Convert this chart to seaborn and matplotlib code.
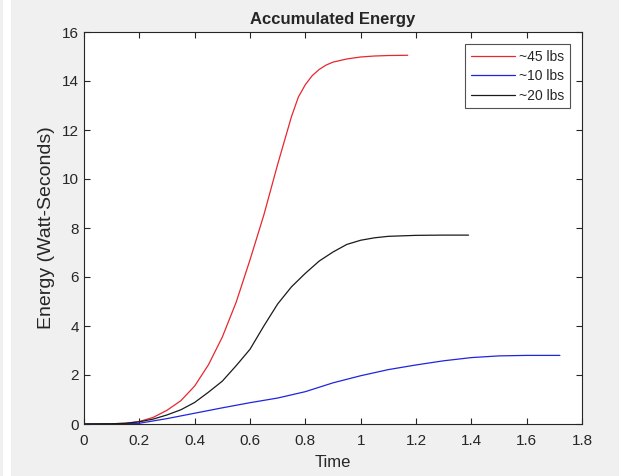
import numpy as np
import pandas as pd
import seaborn as sns
from matplotlib import pyplot as plt
from matplotlib.patches import Rectangle

# values
t_45 = [0.0, 0.1, 0.15, 0.2, 0.25, 0.3, 0.35, 0.4, 0.45, 0.5, 0.55, 0.6, 0.65, 0.7, 0.75,
        0.775, 0.8, 0.825, 0.85, 0.875, 0.9, 0.95, 1.0, 1.05, 1.1, 1.17]
e_45 = [0.0, 0.01, 0.03, 0.1, 0.27, 0.56, 0.95, 1.55, 2.42, 3.55, 4.97, 6.7, 8.53, 10.6, 12.55,
        13.35, 13.85, 14.22, 14.47, 14.65, 14.77, 14.9, 14.98, 15.02, 15.04, 15.05]

t_20 = [0.0, 0.1, 0.15, 0.2, 0.25, 0.3, 0.35, 0.4, 0.45, 0.5, 0.55, 0.6, 0.65, 0.7, 0.75,
        0.8, 0.85, 0.9, 0.95, 1.0, 1.05, 1.1, 1.2, 1.3, 1.39]
e_20 = [0.0, 0.01, 0.03, 0.09, 0.2, 0.37, 0.58, 0.88, 1.3, 1.75, 2.38, 3.05, 4.0, 4.9, 5.6,
        6.15, 6.65, 7.02, 7.33, 7.5, 7.6, 7.66, 7.7, 7.71, 7.71]

t_10 = [0.0, 0.1, 0.15, 0.2, 0.3, 0.4, 0.5, 0.6, 0.7, 0.8, 0.9, 1.0, 1.1, 1.2, 1.3, 1.4,
        1.5, 1.6, 1.72]
e_10 = [0.0, 0.0, 0.01, 0.03, 0.22, 0.44, 0.66, 0.87, 1.06, 1.32, 1.68, 1.97, 2.22, 2.41,
        2.58, 2.71, 2.78, 2.80, 2.80]

labels = ['~45 lbs', '~10 lbs', '~20 lbs']
colors = {'~45 lbs': '#e8262e', '~10 lbs': '#1f24e0', '~20 lbs': '#1a1a1a'}

df = pd.concat([
    pd.DataFrame({'Time': t_45, 'Energy': e_45, 'Load': '~45 lbs'}),
    pd.DataFrame({'Time': t_10, 'Energy': e_10, 'Load': '~10 lbs'}),
    pd.DataFrame({'Time': t_20, 'Energy': e_20, 'Load': '~20 lbs'}),
])

sns.set_style('ticks')
plt.rcParams['font.family'] = ['Liberation Sans', 'DejaVu Sans']
plt.rcParams['lines.solid_joinstyle'] = 'round'
grey = '#262626'

fig = plt.figure(figsize=(6.19, 4.76), dpi=100, facecolor='#f0f0f0')
fig.patches.append(Rectangle((3 / 619, 0), 8 / 619, 1, transform=fig.transFigure,
                             facecolor='white', edgecolor='none', zorder=0))
ax = fig.add_axes([84 / 619, 52 / 476, 498 / 619, 392 / 476])

sns.lineplot(data=df, x='Time', y='Energy', hue='Load', hue_order=labels,
             palette=colors, linewidth=0.9, ax=ax, sort=False, estimator=None)

ax.set_xlim(0, 1.8)
ax.set_ylim(0, 16)
ax.set_xticks(np.arange(0, 1.81, 0.2))
ax.set_xticklabels(['0', '0.2', '0.4', '0.6', '0.8', '1', '1.2', '1.4', '1.6', '1.8'])
ax.set_yticks(range(0, 17, 2))
ax.tick_params(direction='in', length=4, width=0.8, colors=grey, labelsize=11,
               top=True, right=True, labelcolor=grey)
ax.tick_params(axis='x', pad=7)
for s in ax.spines.values():
    s.set_visible(True)
    s.set_color(grey)
    s.set_linewidth(0.8)

ax.set_title('Accumulated Energy', fontsize=12, fontweight='bold', pad=6)
ax.set_xlabel('Time', fontsize=12, color=grey, labelpad=5)
ax.set_ylabel('Energy (Watt-Seconds)', fontsize=14, color=grey, labelpad=5)

leg = ax.legend(loc='upper right', bbox_to_anchor=(0.976, 0.969), borderaxespad=0,
                fontsize=10, handlelength=3.2, handletextpad=0.3, labelspacing=0.4,
                borderpad=0.4, fancybox=False, frameon=True)
leg.get_frame().set_edgecolor(grey)
leg.get_frame().set_linewidth(0.8)

fig.savefig('out.png', dpi=100, facecolor=fig.get_facecolor())
